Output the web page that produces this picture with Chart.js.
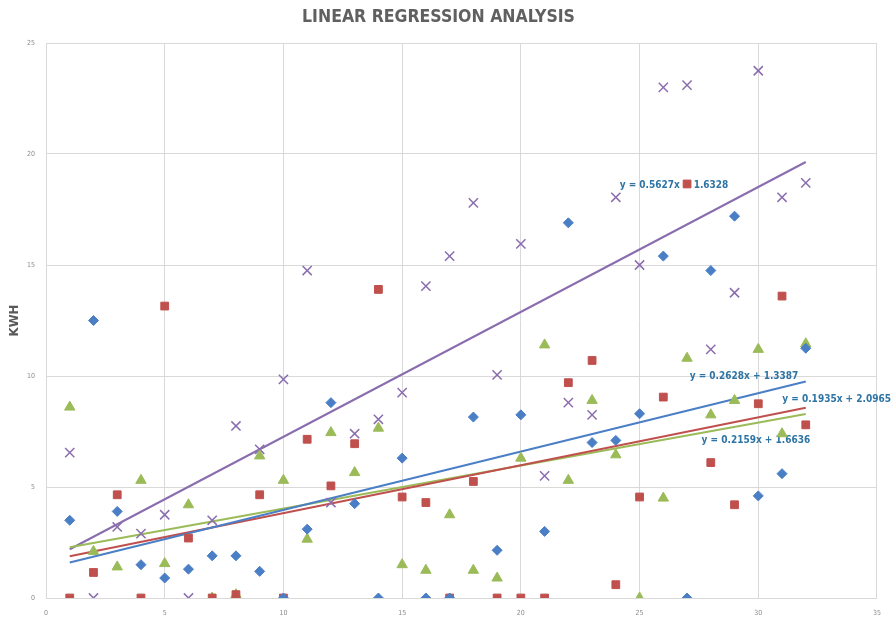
<!DOCTYPE html>
<html>
<head>
<meta charset="utf-8">
<script src="https://cdn.jsdelivr.net/npm/chart.js@4.4.1/dist/chart.umd.min.js"></script>
<style>
  html, body { margin: 0; padding: 0; background: #ffffff; }
  #wrap { width: 892px; height: 621px; position: relative; }
</style>
</head>
<body>
<div id="wrap"><canvas id="c" width="892" height="621"></canvas></div>
<script>
// ---- data ----
const xValues = [1,2,3,4,5,6,7,8,9,10,11,12,13,14,15,16,17,18,19,20,21,22,23,24,25,26,27,28,29,30,31,32];
const seriesBlue   = [3.5,12.5,3.9,1.5,0.9,1.3,1.9,1.9,1.2,0,3.1,8.8,4.25,0,6.3,0,0,8.15,2.15,8.25,3.0,16.9,7.0,7.1,8.3,15.4,0,14.75,17.2,4.6,5.6,11.25];
const seriesRed    = [0,1.15,4.65,0,13.15,2.7,0,0.15,4.65,0,7.15,5.05,6.95,13.9,4.55,4.3,0,5.25,0,0,0,9.7,10.7,0.6,4.55,9.05,18.65,6.1,4.2,8.75,13.6,7.8];
const seriesGreen  = [8.6,2.1,1.4,5.3,1.55,4.2,0,0.15,6.4,5.3,2.65,7.45,5.65,7.65,1.5,1.25,3.75,1.25,0.9,6.3,11.4,5.3,8.9,6.45,0,4.5,10.8,8.25,8.9,11.2,7.4,11.45];
const seriesPurple = [6.55,0,3.2,2.9,3.75,0,3.5,7.75,6.7,9.85,14.75,4.3,7.4,8.05,9.25,14.05,15.4,17.8,10.05,15.95,5.5,8.8,8.25,18.05,15.0,23.0,23.1,11.2,13.75,23.75,18.05,18.7];

// trendline coefficients (as printed on the chart): blue, red, green, purple
const trendSlopes     = [0.2628, 0.2159, 0.1935, 0.5627];
const trendIntercepts = [1.3387, 1.6636, 2.0965, 1.6328];
const trendLabels     = ['y = 0.2628x + 1.3387', 'y = 0.2159x + 1.6636', 'y = 0.1935x + 2.0965', 'y = 0.5627x + 1.6328'];

const xTicks = [0,5,10,15,20,25,30,35];
const yTicks = [0,5,10,15,20,25];

// ---- styles ----
const colors = ['#4A7FC6', '#C0504D', '#9BBB59', '#8A6DAE'];
const markerStyles = ['rectRot', 'rect', 'triangle', 'crossRot'];
const markerRadius = [5, 5.5, 6, 6.5];
const labelAnchors = [[26.45, 18.6], [29.9, 7.12], [33.3, 8.96], [26.45, 18.6]];
const labelAnchorsFixed = [[29.4, 9.97], [29.9, 7.12], [33.3, 8.96], [26.45, 18.6]];
const narrow = '"Liberation Sans Narrow", "DejaVu Sans Condensed", "Liberation Sans", sans-serif';

const allSeries = [seriesBlue, seriesRed, seriesGreen, seriesPurple];
const names = ['Series 1', 'Series 2', 'Series 3', 'Series 4'];

const datasets = [];
allSeries.forEach((vals, i) => {
  datasets.push({
    type: 'scatter',
    label: names[i],
    data: xValues.map((x, k) => ({ x: x, y: vals[k] })),
    pointStyle: markerStyles[i],
    pointRadius: markerRadius[i],
    pointHoverRadius: markerRadius[i],
    backgroundColor: colors[i],
    borderColor: colors[i],
    pointBorderWidth: i === 3 ? 1.5 : 1,
    order: 1
  });
});
allSeries.forEach((vals, i) => {
  const x0 = xValues[0], x1 = xValues[xValues.length - 1];
  datasets.push({
    type: 'line',
    label: names[i] + ' trend',
    data: [x0, x1].map(x => ({ x: x, y: trendSlopes[i] * x + trendIntercepts[i] })),
    borderColor: colors[i],
    borderWidth: 2,
    pointRadius: 0,
    fill: false,
    order: 2
  });
});

const trendLabelPlugin = {
  id: 'trendLabels',
  beforeDatasetsDraw(chart) {
    const ctx = chart.ctx;
    const xs = chart.scales.x, ys = chart.scales.y;
    ctx.save();
    ctx.font = 'bold 10px ' + narrow;
    ctx.fillStyle = '#2E74A4';
    ctx.textAlign = 'center';
    ctx.textBaseline = 'middle';
    trendLabels.forEach((t, i) => {
      ctx.fillText(t, xs.getPixelForValue(labelAnchorsFixed[i][0]), ys.getPixelForValue(labelAnchorsFixed[i][1]));
    });
    ctx.restore();
  }
};

new Chart(document.getElementById('c'), {
  data: { datasets: datasets },
  options: {
    responsive: false,
    animation: false,
    devicePixelRatio: 1,
    layout: { padding: { left: 0, right: 15, top: 0, bottom: 0 } },
    plugins: {
      legend: { display: false },
      tooltip: { enabled: false },
      title: {
        display: true,
        text: 'LINEAR REGRESSION ANALYSIS',
        color: '#606060',
        font: { family: narrow, size: 17.5, weight: 'bold', lineHeight: 1.2 },
        padding: { top: 7, bottom: 15 }
      }
    },
    scales: {
      x: {
        type: 'linear',
        min: 0, max: 35,
        afterBuildTicks(scale) { scale.ticks = xTicks.map(v => ({ value: v })); },
        afterFit(scale) { scale.height = 23; },
        grid: { color: '#d9d9d9', lineWidth: 1, drawTicks: false },
        border: { color: '#d9d9d9' },
        ticks: { color: '#8c8c8c', font: { size: 7, family: narrow }, padding: 11, maxRotation: 0 }
      },
      y: {
        type: 'linear',
        min: 0, max: 25,
        afterBuildTicks(scale) { scale.ticks = yTicks.map(v => ({ value: v })); },
        afterFit(scale) { scale.width = 46; },
        grid: { color: '#d9d9d9', lineWidth: 1, drawTicks: false },
        border: { color: '#d9d9d9' },
        ticks: { color: '#8c8c8c', font: { size: 7, family: narrow }, padding: 11 },
        title: {
          display: true,
          text: 'KWH',
          color: '#595959',
          font: { family: narrow, size: 13, weight: 'bold', lineHeight: 1.2 },
          padding: { top: 7, bottom: 0 }
        }
      }
    }
  },
  plugins: [trendLabelPlugin]
});
</script>
</body>
</html>
